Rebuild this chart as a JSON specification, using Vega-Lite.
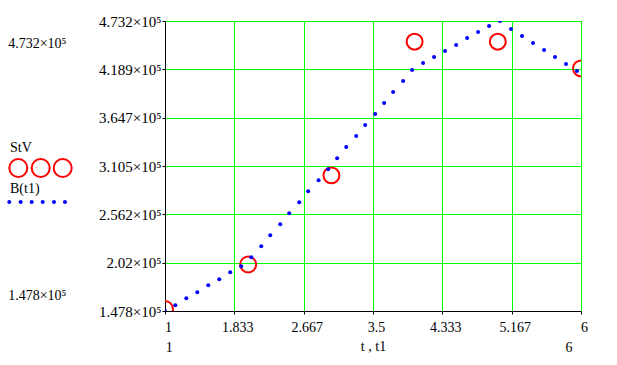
{
  "$schema": "https://vega.github.io/schema/vega-lite/v6.json",
  "width": 416,
  "height": 290,
  "autosize": {"type": "none"},
  "padding": {"left": 165, "top": 21, "right": 36, "bottom": 54},
  "background": "white",
  "config": {
    "view": {"stroke": null},
    "axis": {"labelFont": "Liberation Serif", "labelFontSize": 14, "labelColor": "black", "titleFont": "Liberation Serif", "titleFontSize": 14, "titleFontWeight": "normal", "titleColor": "black", "domainColor": "black", "tickColor": "black", "gridColor": "#00ff00", "gridOpacity": 1, "labelFlush": false, "labelOverlap": false, "labelBound": false, "labelLimit": 300},
    "legend": {"titleFont": "Liberation Serif", "titleFontSize": 14, "titleFontWeight": "normal", "titleColor": "black", "padding": 0, "labelFontSize": 1, "labelExpr": "''"}
  },
  "datasets": {
    "stv": [
      {"t": 1, "v": 150000}, {"t": 2, "v": 200000}, {"t": 3, "v": 300000},
      {"t": 4, "v": 450000}, {"t": 5, "v": 450000}, {"t": 6, "v": 420000}
    ],
    "b": [
      {"t": 1.0, "v": 147800}, {"t": 1.124, "v": 154210}, {"t": 1.256, "v": 162070}, {"t": 1.388, "v": 168810},
      {"t": 1.520, "v": 176680}, {"t": 1.652, "v": 183410}, {"t": 1.784, "v": 191280}, {"t": 1.916, "v": 198020},
      {"t": 2.037, "v": 208120}, {"t": 2.157, "v": 220480}, {"t": 2.265, "v": 232840}, {"t": 2.385, "v": 245190},
      {"t": 2.493, "v": 257550}, {"t": 2.613, "v": 269900}, {"t": 2.721, "v": 282260}, {"t": 2.846, "v": 294610},
      {"t": 2.961, "v": 306970}, {"t": 3.069, "v": 319320}, {"t": 3.178, "v": 331680}, {"t": 3.298, "v": 344030},
      {"t": 3.406, "v": 356390}, {"t": 3.526, "v": 368740}, {"t": 3.634, "v": 381100}, {"t": 3.742, "v": 393450},
      {"t": 3.862, "v": 405810}, {"t": 3.970, "v": 418160}, {"t": 4.102, "v": 426030}, {"t": 4.234, "v": 432760},
      {"t": 4.366, "v": 439500}, {"t": 4.499, "v": 446240}, {"t": 4.631, "v": 454110}, {"t": 4.763, "v": 460840},
      {"t": 4.895, "v": 467580}, {"t": 5.027, "v": 473200}, {"t": 5.159, "v": 464210}, {"t": 5.291, "v": 456350},
      {"t": 5.423, "v": 448490}, {"t": 5.556, "v": 440630}, {"t": 5.688, "v": 432760}, {"t": 5.820, "v": 424900},
      {"t": 5.952, "v": 417040}
    ]
  },
  "layer": [
    {
      "data": {"name": "stv"},
      "mark": {"type": "point", "shape": "circle", "filled": false, "size": 254, "strokeWidth": 2, "opacity": 1, "clip": true},
      "encoding": {
        "x": {"field": "t", "type": "quantitative", "scale": {"domain": [1, 6], "nice": false, "zero": false},
          "axis": {"orient": "bottom", "values": [1.044, 5.85], "labelExpr": "datum.value < 3 ? '1' : '6'", "labelFont": "Liberation Serif", "labelFontSize": 14, "ticks": false, "domain": false, "grid": false, "offset": 27, "labelPadding": 2, "title": null}},
        "y": {"field": "v", "type": "quantitative", "scale": {"domain": [147800, 473200], "nice": false, "zero": false},
          "axis": {"orient": "left", "values": [447700, 164650], "labelExpr": "datum.value > 300000 ? '4.732×10⁵' : '1.478×10⁵'", "labelFont": "Liberation Serif", "labelFontSize": 14, "ticks": false, "domain": false, "grid": false, "offset": 99, "labelPadding": 0, "title": null}},
        "stroke": {"datum": "StV", "type": "nominal", "scale": {"range": ["#ff0000"]},
          "legend": {"title": "StV", "titleFontSize": 14, "orient": "none", "legendX": -155, "legendY": 120, "titlePadding": 2,
            "symbolType": "M0.63,0A0.9,0.9 0 1,1 -1.17,0A0.9,0.9 0 1,1 0.63,0ZM2.87,0A0.9,0.9 0 1,1 1.07,0A0.9,0.9 0 1,1 2.87,0ZM5.07,0A0.9,0.9 0 1,1 3.27,0A0.9,0.9 0 1,1 5.07,0Z",
            "symbolSize": 400, "symbolStrokeWidth": 2, "symbolFillColor": "transparent"}}
      }
    },
    {
      "data": {"name": "b"},
      "mark": {"type": "point", "shape": "circle", "filled": true, "size": 16, "opacity": 1, "clip": true},
      "encoding": {
        "x": {"field": "t", "type": "quantitative", "scale": {"domain": [1, 6], "nice": false, "zero": false},
          "axis": {"orient": "bottom", "values": [1, 1.8333333, 2.6666667, 3.5, 4.3333333, 5.1666667, 6], "labelExpr": "format(datum.value, '.4~g')", "labelFont": "Liberation Serif", "labelFontSize": 14, "tickSize": 3, "labelPadding": 6, "labelOffset": 3, "grid": true, "title": "t , t1", "titleFontSize": 14, "titlePadding": 5}},
        "y": {"field": "v", "type": "quantitative", "scale": {"domain": [147800, 473200], "nice": false, "zero": false},
          "axis": {"orient": "left", "values": [147800, 202000, 256200, 310500, 364700, 418900, 473200], "labelExpr": "format(datum.value / 100000, '.3~f') + '×10⁵'", "labelFont": "Liberation Serif", "labelFontSize": 15, "tickSize": 3, "labelPadding": 1, "grid": true, "title": null}},
        "fill": {"datum": "B(t1)", "type": "nominal", "scale": {"range": ["#0000ff"]},
          "legend": {"title": "B(t1)", "titleFontSize": 14, "orient": "none", "legendX": -155, "legendY": 161, "titlePadding": 4,
            "symbolType": "M-0.35,0A1,1 0 1,1 -2.35,0A1,1 0 1,1 -0.35,0ZM5.35,0A1,1 0 1,1 3.35,0A1,1 0 1,1 5.35,0ZM10.85,0A1,1 0 1,1 8.85,0A1,1 0 1,1 10.85,0ZM16.35,0A1,1 0 1,1 14.35,0A1,1 0 1,1 16.35,0ZM22,0A1,1 0 1,1 20,0A1,1 0 1,1 22,0ZM27.5,0A1,1 0 1,1 25.5,0A1,1 0 1,1 27.5,0Z",
            "symbolSize": 16, "symbolStrokeWidth": 0}}
      }
    }
  ],
  "resolve": {"axis": {"x": "independent", "y": "independent"}, "legend": {"stroke": "independent", "fill": "independent"}}
}
